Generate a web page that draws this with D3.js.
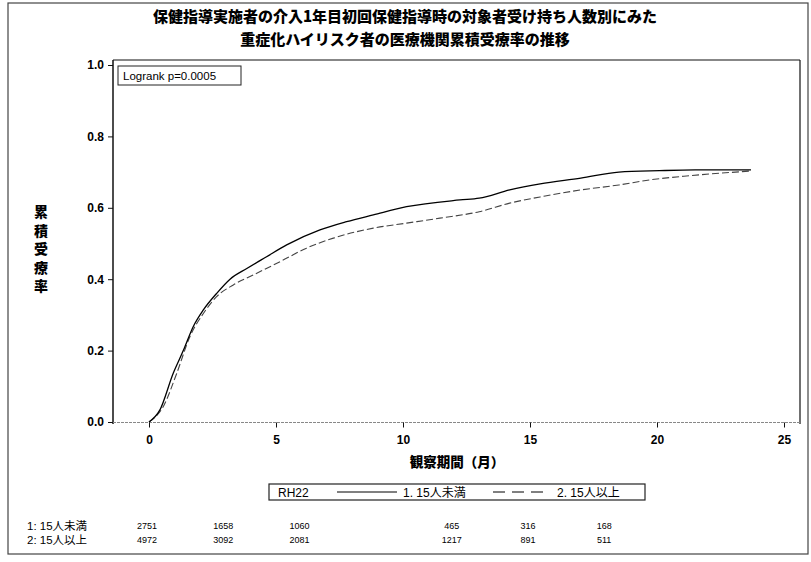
<!DOCTYPE html>
<html><head><meta charset="utf-8">
<script src="https://cdn.jsdelivr.net/npm/d3@7"></script>
<style>body{margin:0;background:#fff}</style>
</head><body>
<svg id="c" width="811" height="562"></svg>
<script>
const titleLines = ["保健指導実施者の介入1年目初回保健指導時の対象者受け持ち人数別にみた","重症化ハイリスク者の医療機関累積受療率の推移"];
const yLabel = "累積受療率";
const xLabel = "観察期間（月）";
const xTicks = [0,5,10,15,20,25];
const yTicks = [0,0.2,0.4,0.6,0.8,1.0];
const seriesNames = ["1. 15人未満","2. 15人以上"];
const legendTitle = "RH22";
const logrankText = "Logrank p=0.0005";
// group 1 (<15) solid
const t1 = [0,0.43,0.95,1.35,1.74,2.14,2.66,3.19,3.85,4.63,5.42,6.73,7.78,8.83,10.14,12.24,13.0,14.2,15.4,17.0,18.5,20.1,21.5,23.7];
const v1 = [0,0.034,0.136,0.20,0.267,0.314,0.36,0.40,0.43,0.463,0.496,0.538,0.561,0.58,0.603,0.622,0.627,0.65,0.667,0.683,0.70,0.704,0.706,0.706];
// group 2 (>=15) dashed
const t2 = [0,0.56,1.09,1.61,2.14,2.66,3.32,4.11,5.16,6.2,7.26,8.83,10.14,11.45,13.0,14.2,15.6,17.0,18.5,19.7,21.3,23.7];
const v2 = [0,0.043,0.136,0.239,0.304,0.351,0.384,0.412,0.449,0.487,0.515,0.543,0.557,0.571,0.589,0.613,0.633,0.65,0.664,0.678,0.69,0.703];
const riskTimes = [0,3,6,12,15,18];
const riskRowLabels = ["1: 15人未満","2: 15人以上"];
const risk1 = [2751,1658,1060,465,316,168];
const risk2 = [4972,3092,2081,1217,891,511];

const svg = d3.select("#c");
const cjk = "'Noto Sans CJK JP','Noto Sans',sans-serif";
const lat = "'Liberation Sans',Arial,sans-serif";
const latcjk = "'Liberation Sans','Noto Sans CJK JP',sans-serif";

// outer border
svg.append("rect").attr("x",8).attr("y",3).attr("width",800).attr("height",551)
  .attr("fill","none").attr("stroke","#444").attr("stroke-width",1.2);

// title
titleLines.forEach((t,i)=>{
  svg.append("text").attr("x",405).attr("y",22+i*23).attr("text-anchor","middle")
    .attr("font-family",cjk).attr("font-weight","900").attr("font-size",15).text(t);
});

const L=113,R=800,T=60,B=424;
const x = d3.scaleLinear().domain([0,25]).range([149,784]);
const y = d3.scaleLinear().domain([0,1]).range([422,65]);

// frame
svg.append("line").attr("x1",L).attr("x2",R).attr("y1",T).attr("y2",T).attr("stroke","#111").attr("stroke-width",1.2);
svg.append("line").attr("x1",R).attr("x2",R).attr("y1",T).attr("y2",B).attr("stroke","#111").attr("stroke-width",1.2);
svg.append("line").attr("x1",L).attr("x2",L).attr("y1",T).attr("y2",B).attr("stroke","#111").attr("stroke-width",1.5);
svg.append("line").attr("x1",L).attr("x2",R).attr("y1",B-1.5).attr("y2",B-1.5).attr("stroke","#888").attr("stroke-width",1).attr("stroke-dasharray","3,1");

// y axis
const ya = svg.append("g").attr("transform",`translate(${L},0)`)
  .call(d3.axisLeft(y).tickValues(yTicks).tickFormat(d3.format(".1f")).tickSize(5).tickPadding(4));
ya.select(".domain").remove();
ya.selectAll("text").attr("font-family",lat).attr("font-weight","bold").attr("font-size",12).attr("fill","#000");
ya.selectAll("line").attr("stroke","#111");

// x axis
const xa = svg.append("g").attr("transform",`translate(0,${B-1.5})`)
  .call(d3.axisBottom(x).tickValues(xTicks).tickFormat(d3.format("d")).tickSize(5).tickPadding(8));
xa.select(".domain").remove();
xa.selectAll("text").attr("font-family",lat).attr("font-weight","bold").attr("font-size",12).attr("fill","#000");
xa.selectAll("line").attr("stroke","#111");

// axis labels
svg.append("text").attr("x",457).attr("y",467).attr("text-anchor","middle")
  .attr("font-family",cjk).attr("font-weight","900").attr("font-size",13.5).text(xLabel);
yLabel.split("").forEach((c,i)=>{
  svg.append("text").attr("x",41).attr("y",217+i*18.5).attr("text-anchor","middle")
    .attr("font-family",cjk).attr("font-weight","900").attr("font-size",14).text(c);
});

// logrank box
svg.append("rect").attr("x",118).attr("y",66).attr("width",123).attr("height",19)
  .attr("fill","#fff").attr("stroke","#222").attr("stroke-width",1);
svg.append("text").attr("x",123).attr("y",80).attr("font-family",lat).attr("font-size",11.5).text(logrankText);

// curves
const lineGen = d3.line().x(d=>x(d[0])).y(d=>y(d[1])).curve(d3.curveMonotoneX);
svg.append("path").datum(t2.map((t,i)=>[t,v2[i]])).attr("d",lineGen)
  .attr("fill","none").attr("stroke","#444").attr("stroke-width",1.1).attr("stroke-dasharray","7,3");
svg.append("path").datum(t1.map((t,i)=>[t,v1[i]])).attr("d",lineGen)
  .attr("fill","none").attr("stroke","#000").attr("stroke-width",1.3);

// legend
svg.append("rect").attr("x",269).attr("y",484).attr("width",376).attr("height",16)
  .attr("fill","#fff").attr("stroke","#222").attr("stroke-width",1.2);
svg.append("text").attr("x",278).attr("y",497).attr("font-family",lat).attr("font-size",12).text(legendTitle);
svg.append("line").attr("x1",337).attr("x2",397).attr("y1",492).attr("y2",492).attr("stroke","#000").attr("stroke-width",1);
svg.append("text").attr("x",403).attr("y",497).attr("font-family",latcjk).attr("font-size",12).text(seriesNames[0]);
svg.append("line").attr("x1",493).attr("x2",543).attr("y1",492).attr("y2",492).attr("stroke","#000").attr("stroke-width",1).attr("stroke-dasharray","12,7");
svg.append("text").attr("x",557).attr("y",497).attr("font-family",latcjk).attr("font-size",12).text(seriesNames[1]);

// risk table
[risk1,risk2].forEach((row,r)=>{
  svg.append("text").attr("x",27).attr("y",530+r*14).attr("font-family",latcjk).attr("font-size",11.5).text(riskRowLabels[r]);
  row.forEach((v,i)=>{
    svg.append("text").attr("x",x(riskTimes[i])-2).attr("y",529+r*14).attr("text-anchor","middle")
      .attr("font-family",lat).attr("font-size",9).text(v);
  });
});
</script>
</body></html>
